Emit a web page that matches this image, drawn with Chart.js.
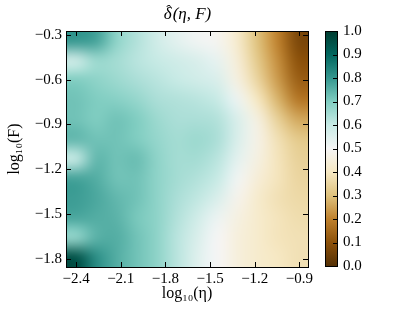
<!DOCTYPE html>
<html>
<head>
<meta charset="utf-8">
<script src="https://cdn.jsdelivr.net/npm/chart.js@4.4.1/dist/chart.umd.min.js"></script>
<style>
  html, body { margin: 0; background: #fff; }
  #wrap { position: relative; width: 415px; height: 312px; }
  canvas { position: absolute; left: 0; top: 0; }
</style>
</head>
<body>
<div id="wrap">
  <canvas id="heat" width="415" height="312"></canvas>
  <canvas id="cbar" width="415" height="312"></canvas>
</div>
<script>
// cell centres, log10(eta) left to right, log10(F) top to bottom
const etaCenters = [-2.40, -2.27, -2.13, -2.00, -1.86, -1.73, -1.59, -1.46, -1.32, -1.18, -1.05, -0.91];
const fCenters = [-0.34, -0.47, -0.60, -0.74, -0.87, -1.00, -1.13, -1.27, -1.40, -1.53, -1.66, -1.79];

// delta hat values, one row per F (top row first)
const delta = [
  [0.80, 0.78, 0.68, 0.63, 0.58, 0.54, 0.51, 0.49, 0.42, 0.30, 0.20, 0.07],
  [0.58, 0.66, 0.65, 0.62, 0.60, 0.58, 0.56, 0.53, 0.44, 0.32, 0.22, 0.10],
  [0.70, 0.68, 0.66, 0.64, 0.62, 0.60, 0.58, 0.56, 0.46, 0.35, 0.24, 0.13],
  [0.72, 0.70, 0.69, 0.67, 0.64, 0.63, 0.62, 0.60, 0.52, 0.40, 0.28, 0.18],
  [0.72, 0.70, 0.72, 0.70, 0.66, 0.64, 0.64, 0.63, 0.56, 0.46, 0.34, 0.26],
  [0.74, 0.72, 0.72, 0.70, 0.67, 0.65, 0.66, 0.64, 0.56, 0.47, 0.38, 0.32],
  [0.60, 0.74, 0.72, 0.73, 0.68, 0.65, 0.65, 0.62, 0.54, 0.46, 0.39, 0.34],
  [0.78, 0.76, 0.72, 0.72, 0.68, 0.65, 0.63, 0.60, 0.51, 0.44, 0.39, 0.35],
  [0.79, 0.77, 0.74, 0.72, 0.68, 0.64, 0.61, 0.56, 0.48, 0.42, 0.38, 0.36],
  [0.77, 0.76, 0.75, 0.71, 0.68, 0.63, 0.58, 0.52, 0.46, 0.42, 0.39, 0.37],
  [0.67, 0.75, 0.76, 0.72, 0.68, 0.62, 0.56, 0.50, 0.45, 0.42, 0.39, 0.38],
  [0.95, 0.82, 0.76, 0.72, 0.68, 0.62, 0.55, 0.50, 0.45, 0.42, 0.40, 0.38]
];

const etaTicks = [-2.4, -2.1, -1.8, -1.5, -1.2, -0.9];
const fTicks = [-1.8, -1.5, -1.2, -0.9, -0.6, -0.3];
const cbTicks = [0.0, 0.1, 0.2, 0.3, 0.4, 0.5, 0.6, 0.7, 0.8, 0.9, 1.0];

// BrBG colour map
const brbg = [
  [84, 48, 5], [140, 81, 10], [191, 129, 45], [223, 194, 125], [246, 232, 195],
  [245, 245, 245], [199, 234, 229], [128, 205, 193], [53, 151, 143], [1, 102, 94], [0, 60, 48]
];

function cmap(v) {
  v = Math.max(0, Math.min(1, v)) * (brbg.length - 1);
  const i = Math.min(Math.floor(v), brbg.length - 2);
  const t = v - i;
  const a = brbg[i], b = brbg[i + 1];
  return [0, 1, 2].map(k => Math.round(a[k] + (b[k] - a[k]) * t));
}

const serif = 'Liberation Serif';
const fmt = v => v.toFixed(1).replace('-', '\u2212');

const dEta = (etaCenters[etaCenters.length - 1] - etaCenters[0]) / (etaCenters.length - 1);
const dF = (fCenters[0] - fCenters[fCenters.length - 1]) / (fCenters.length - 1);
const etaMin = etaCenters[0] - dEta / 2, etaMax = etaCenters[etaCenters.length - 1] + dEta / 2;
const fMax = fCenters[0] + dF / 2, fMin = fCenters[fCenters.length - 1] - dF / 2;

const points = [];
fCenters.forEach((f, r) => etaCenters.forEach((e, c) => points.push({x: e, y: f, v: delta[r][c]})));

function drawTicks(ctx, list) {
  ctx.save();
  ctx.strokeStyle = '#000';
  ctx.lineWidth = 1;
  ctx.beginPath();
  list.forEach(([x0, y0, x1, y1]) => { ctx.moveTo(x0, y0); ctx.lineTo(x1, y1); });
  ctx.stroke();
  ctx.restore();
}

function frame(ctx, a) {
  ctx.save();
  ctx.strokeStyle = '#000';
  ctx.lineWidth = 1;
  ctx.strokeRect(Math.round(a.left) + 0.5, Math.round(a.top) + 0.5, Math.round(a.right - a.left), Math.round(a.bottom - a.top));
  ctx.restore();
}

const heatPlugin = {
  id: 'heat',
  beforeDatasetsDraw(chart) {
    const {ctx, chartArea: a, scales: {x, y}} = chart;
    const off = document.createElement('canvas');
    off.width = etaCenters.length;
    off.height = fCenters.length;
    const octx = off.getContext('2d');
    const img = octx.createImageData(off.width, off.height);
    points.forEach((p, i) => {
      const [r, g, b] = cmap(p.v);
      img.data[i * 4] = r; img.data[i * 4 + 1] = g; img.data[i * 4 + 2] = b; img.data[i * 4 + 3] = 255;
    });
    octx.putImageData(img, 0, 0);
    const x0 = x.getPixelForValue(etaMin), x1 = x.getPixelForValue(etaMax);
    const y0 = y.getPixelForValue(fMax), y1 = y.getPixelForValue(fMin);
    ctx.save();
    ctx.beginPath();
    ctx.rect(a.left, a.top, a.right - a.left, a.bottom - a.top);
    ctx.clip();
    ctx.imageSmoothingEnabled = true;
    ctx.imageSmoothingQuality = 'high';
    ctx.drawImage(off, x0, y0, x1 - x0, y1 - y0);
    ctx.restore();
  },
  afterDraw(chart) {
    const {ctx, chartArea: a, scales: {x, y}} = chart;
    const L = 5, segs = [];
    etaTicks.forEach(v => {
      const px = Math.round(x.getPixelForValue(v)) + 0.5;
      segs.push([px, a.bottom, px, a.bottom - L], [px, a.top, px, a.top + L]);
    });
    fTicks.forEach(v => {
      const py = Math.round(y.getPixelForValue(v)) + 0.5;
      segs.push([a.left, py, a.left + L, py], [a.right, py, a.right - L, py]);
    });
    drawTicks(ctx, segs);
    frame(ctx, a);

    // title: delta with a hat, then (eta, F)
    const head = '\u03B4', rest = '(\u03B7, F)';
    ctx.save();
    ctx.fillStyle = '#000';
    ctx.font = 'italic 17px "Liberation Serif"';
    ctx.textBaseline = 'alphabetic';
    const wHead = ctx.measureText(head).width, wRest = ctx.measureText(rest).width;
    const cx = (a.left + a.right) / 2;
    const x0 = cx - (wHead + wRest) / 2, base = 19;
    ctx.textAlign = 'left';
    ctx.fillText(head, x0, base);
    ctx.fillText(rest, x0 + wHead + 1, base);
    ctx.textAlign = 'center';
    ctx.font = '15px "Liberation Serif"';
    ctx.fillText('\u02C6', x0 + wHead / 2 + 1, base - 4);
    ctx.restore();
  }
};

new Chart(document.getElementById('heat'), {
  type: 'scatter',
  data: { datasets: [{ data: points, pointRadius: 0, showLine: false }] },
  options: {
    responsive: false,
    animation: false,
    layout: { padding: { left: 0, top: 31, right: 107, bottom: 0 } },
    plugins: {
      legend: { display: false },
      tooltip: { enabled: false },
      title: { display: false }
    },
    scales: {
      x: {
        type: 'linear', min: etaMin, max: etaMax,
        afterBuildTicks: s => { s.ticks = etaTicks.map(v => ({ value: v })); },
        afterFit: s => { s.height = 45; },
        grid: { display: false, drawTicks: false }, border: { display: false },
        ticks: { color: '#000', font: { family: serif, size: 15 }, padding: 3, maxRotation: 0, autoSkip: false, callback: fmt },
        title: { display: true, text: 'log\u2081\u2080(\u03B7)', color: '#000', font: { family: serif, size: 16, lineHeight: 1.2 }, padding: { top: 0, bottom: 9 } }
      },
      y: {
        type: 'linear', min: fMin, max: fMax,
        afterBuildTicks: s => { s.ticks = fTicks.map(v => ({ value: v })); },
        afterFit: s => { s.width = 66; },
        grid: { display: false, drawTicks: false }, border: { display: false },
        ticks: { color: '#000', font: { family: serif, size: 15 }, padding: 4, autoSkip: false, callback: fmt },
        title: { display: true, text: 'log\u2081\u2080(F)', color: '#000', font: { family: serif, size: 16, lineHeight: 1.2 }, padding: { top: 5, bottom: 0 } }
      }
    }
  },
  plugins: [heatPlugin]
});

const cbarPlugin = {
  id: 'cbar',
  beforeDatasetsDraw(chart) {
    const {ctx, chartArea: a, scales: {y}} = chart;
    const g = ctx.createLinearGradient(0, y.getPixelForValue(0), 0, y.getPixelForValue(1));
    brbg.forEach((c, i) => g.addColorStop(i / (brbg.length - 1), `rgb(${c[0]},${c[1]},${c[2]})`));
    ctx.save();
    ctx.fillStyle = g;
    ctx.fillRect(a.left, a.top, a.right - a.left, a.bottom - a.top);
    ctx.restore();
  },
  afterDraw(chart) {
    const {ctx, chartArea: a, scales: {y}} = chart;
    const segs = cbTicks.map(v => {
      const py = Math.round(y.getPixelForValue(v)) + 0.5;
      return [a.right, py, a.right - 4, py];
    });
    drawTicks(ctx, segs);
    frame(ctx, a);
  }
};

new Chart(document.getElementById('cbar'), {
  type: 'scatter',
  data: { datasets: [{ data: [] }] },
  options: {
    responsive: false,
    animation: false,
    layout: { padding: { left: 325, top: 31, right: 0, bottom: 46 } },
    plugins: { legend: { display: false }, tooltip: { enabled: false } },
    scales: {
      x: { display: false, min: 0, max: 1 },
      y: {
        position: 'right', min: 0, max: 1,
        afterBuildTicks: s => { s.ticks = cbTicks.map(v => ({ value: v })); },
        afterFit: s => { s.width = 78; },
        grid: { display: false, drawTicks: false }, border: { display: false },
        ticks: { color: '#000', font: { family: serif, size: 15 }, padding: 6, autoSkip: false, callback: fmt }
      }
    }
  },
  plugins: [cbarPlugin]
});
</script>
</body>
</html>
